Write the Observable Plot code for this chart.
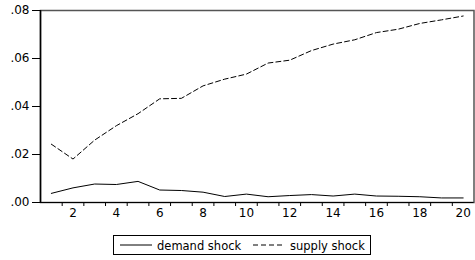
<!DOCTYPE html>
<html>
<head>
<meta charset="utf-8">
<script src="https://cdn.jsdelivr.net/npm/d3@7"></script>
<script src="https://cdn.jsdelivr.net/npm/@observablehq/plot@0.6"></script>
<style>
  html, body { margin: 0; padding: 0; background: #fff; }
  #wrap { position: relative; width: 475px; height: 260px; font-family: "DejaVu Sans", sans-serif; }
  #legend { position: absolute; left: 113px; top: 235px; }
</style>
</head>
<body>
<div id="wrap"></div>
<script>
const steps = [1,2,3,4,5,6,7,8,9,10,11,12,13,14,15,16,17,18,19,20];
const demandShock = [0.0038,0.0061,0.0077,0.0075,0.0088,0.0052,0.0050,0.0043,0.0025,0.0035,0.0024,0.0029,0.0033,0.0027,0.0035,0.0027,0.0026,0.0024,0.0019,0.0019];
const supplyShock = [0.0243,0.0181,0.0260,0.0320,0.0370,0.0432,0.0434,0.0486,0.0514,0.0535,0.0581,0.0593,0.0633,0.0660,0.0678,0.0708,0.0722,0.0746,0.0761,0.0777];
const seriesNames = ["demand shock", "supply shock"];
const xTickLabels = [2,4,6,8,10,12,14,16,18,20];
const yTickValues = [0, 0.02, 0.04, 0.06, 0.08];

const demandData = steps.map((s, i) => ({step: s, value: demandShock[i]}));
const supplyData = steps.map((s, i) => ({step: s, value: supplyShock[i]}));
const boundaries = steps.slice(0, -1).map(s => s + 0.5);
const fmt = d => d3.format(".2f")(d).replace(/^0/, "");

const chart = Plot.plot({
  width: 475,
  height: 222,
  marginLeft: 40,
  marginRight: 1.5,
  marginTop: 10,
  marginBottom: 20,
  style: {fontFamily: "DejaVu Sans", fontSize: "12px", color: "#000", background: "#fff"},
  x: {domain: [0.5, 20.5]},
  y: {domain: [0, 0.08]},
  marks: [
    Plot.frame({stroke: "#555", strokeWidth: 1.5}),
    Plot.axisY({ticks: yTickValues, tickFormat: fmt, tickSize: 8, tickPadding: 3, label: null}),
    Plot.axisX({ticks: boundaries, tickSize: 4, tickFormat: () => "", label: null}),
    Plot.axisX({ticks: xTickLabels, tickSize: 0, tickPadding: 6, label: null}),
    Plot.ruleX([0.5], {stroke: "#000", strokeWidth: 1.5}),
    Plot.ruleY([0], {stroke: "#000", strokeWidth: 1.2}),
    Plot.lineY(supplyData, {x: "step", y: "value", stroke: "#000", strokeWidth: 1, strokeDasharray: "5,3"}),
    Plot.lineY(demandData, {x: "step", y: "value", stroke: "#000", strokeWidth: 1})
  ]
});
document.getElementById("wrap").appendChild(chart);

// Legend
const leg = d3.select("#wrap").append("svg")
  .attr("id", "legend").attr("width", 260).attr("height", 21);
leg.append("rect").attr("x", 0.5).attr("y", 0.5).attr("width", 257).attr("height", 19)
  .attr("fill", "#fff").attr("stroke", "#000").attr("stroke-width", 1);
const items = [
  {name: seriesNames[0], x0: 7, dash: null},
  {name: seriesNames[1], x0: 140, dash: "5,3"}
];
items.forEach(it => {
  leg.append("line").attr("x1", it.x0).attr("x2", it.x0 + 32).attr("y1", 10).attr("y2", 10)
    .attr("stroke", "#000").attr("stroke-width", 1).attr("stroke-dasharray", it.dash);
  leg.append("text").attr("x", it.x0 + 37).attr("y", 14.5)
    .attr("font-family", "DejaVu Sans").attr("font-size", "11.5px").attr("fill", "#000")
    .text(it.name);
});
</script>
</body>
</html>
